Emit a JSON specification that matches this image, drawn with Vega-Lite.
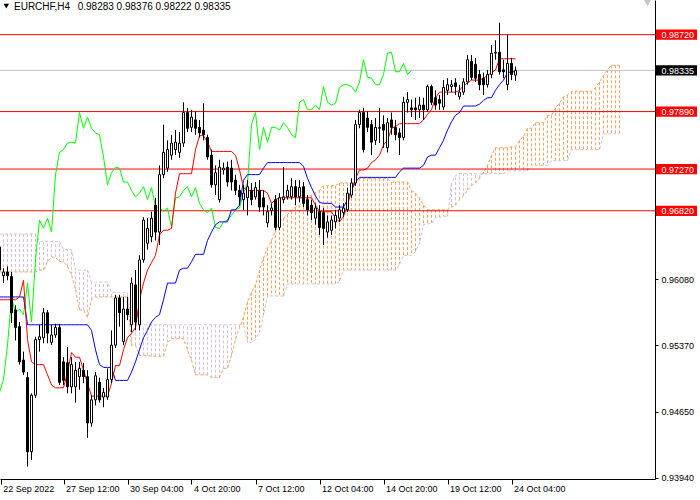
{
"$schema": "https://vega.github.io/schema/vega-lite/v6.json",
"width": 655, "height": 479,
"autosize": {"type": "none"},
"padding": {"left": 0, "top": 0, "right": 45, "bottom": 21},
"background": "white",
"config": {"view": {"stroke": null}, "font": "Liberation Sans", "scale": {"continuousPadding": 0}},
"datasets": {
"k": [
{"i":0,"o":0.9643,"h":0.9647,"l":0.9613,"c":0.9618,"tk":0.9586,"kj":0.9589,"ck":0.9486,"sa":0.9616,"sb":0.9657},
{"i":1,"o":0.9612,"h":0.9620,"l":0.9604,"c":0.9616,"tk":0.9586,"kj":0.9589,"ck":0.9500,"sa":0.9616,"sb":0.9657},
{"i":2,"o":0.9616,"h":0.9622,"l":0.9607,"c":0.9612,"tk":0.9586,"kj":0.9589,"ck":0.9537,"sa":0.9616,"sb":0.9657},
{"i":3,"o":0.9611,"h":0.9616,"l":0.9561,"c":0.9572,"tk":0.9586,"kj":0.9589,"ck":0.9588,"sa":0.9616,"sb":0.9657},
{"i":4,"o":0.9575,"h":0.9580,"l":0.9542,"c":0.9556,"tk":0.9586,"kj":0.9589,"ck":0.9572,"sa":0.9616,"sb":0.9657},
{"i":5,"o":0.9557,"h":0.9562,"l":0.9516,"c":0.9519,"tk":0.9589,"kj":0.9589,"ck":0.9576,"sa":0.9616,"sb":0.9657},
{"i":6,"o":0.9521,"h":0.9530,"l":0.9505,"c":0.9508,"tk":0.9607,"kj":0.9589,"ck":0.9570,"sa":0.9616,"sb":0.9657},
{"i":7,"o":0.9502,"h":0.9508,"l":0.9406,"c":0.9422,"tk":0.9543,"kj":0.9559,"ck":0.9604,"sa":0.9616,"sb":0.9657},
{"i":8,"o":0.9422,"h":0.9485,"l":0.9413,"c":0.9483,"tk":0.9519,"kj":0.9559,"ck":0.9562,"sa":0.9616,"sb":0.9657},
{"i":9,"o":0.9483,"h":0.9546,"l":0.9480,"c":0.9543,"tk":0.9516,"kj":0.9559,"ck":0.9629,"sa":0.9616,"sb":0.9657},
{"i":10,"o":0.9543,"h":0.9559,"l":0.9530,"c":0.9546,"tk":0.9516,"kj":0.9559,"ck":0.9672,"sa":0.9618,"sb":0.9649},
{"i":11,"o":0.9545,"h":0.9577,"l":0.9539,"c":0.9572,"tk":0.9516,"kj":0.9559,"ck":0.9663,"sa":0.9618,"sb":0.9649},
{"i":12,"o":0.9572,"h":0.9575,"l":0.9539,"c":0.9550,"tk":0.9505,"kj":0.9559,"ck":0.9674,"sa":0.9627,"sb":0.9649},
{"i":13,"o":0.9540,"h":0.9559,"l":0.9537,"c":0.9548,"tk":0.9494,"kj":0.9559,"ck":0.9659,"sa":0.9632,"sb":0.9649},
{"i":14,"o":0.9548,"h":0.9560,"l":0.9545,"c":0.9556,"tk":0.9491,"kj":0.9559,"ck":0.9721,"sa":0.9632,"sb":0.9649},
{"i":15,"o":0.9556,"h":0.9560,"l":0.9494,"c":0.9497,"tk":0.9491,"kj":0.9559,"ck":0.9745,"sa":0.9627,"sb":0.9649},
{"i":16,"o":0.9519,"h":0.9524,"l":0.9494,"c":0.9499,"tk":0.9491,"kj":0.9559,"ck":0.9748,"sa":0.9627,"sb":0.9640},
{"i":17,"o":0.9518,"h":0.9535,"l":0.9485,"c":0.9492,"tk":0.9508,"kj":0.9559,"ck":0.9755,"sa":0.9622,"sb":0.9640},
{"i":18,"o":0.9492,"h":0.9524,"l":0.9485,"c":0.9516,"tk":0.9529,"kj":0.9559,"ck":0.9756,"sa":0.9613,"sb":0.9640},
{"i":19,"o":0.9492,"h":0.9519,"l":0.9475,"c":0.9510,"tk":0.9524,"kj":0.9559,"ck":0.9755,"sa":0.9597,"sb":0.9618},
{"i":20,"o":0.9503,"h":0.9519,"l":0.9489,"c":0.9512,"tk":0.9524,"kj":0.9559,"ck":0.9788,"sa":0.9575,"sb":0.9618},
{"i":21,"o":0.9510,"h":0.9518,"l":0.9496,"c":0.9503,"tk":0.9510,"kj":0.9559,"ck":0.9771,"sa":0.9575,"sb":0.9618},
{"i":22,"o":0.9503,"h":0.9510,"l":0.9437,"c":0.9453,"tk":0.9496,"kj":0.9559,"ck":0.9783,"sa":0.9567,"sb":0.9618},
{"i":23,"o":0.9453,"h":0.9483,"l":0.9449,"c":0.9478,"tk":0.9482,"kj":0.9553,"ck":0.9771,"sa":0.9586,"sb":0.9605},
{"i":24,"o":0.9478,"h":0.9508,"l":0.9472,"c":0.9504,"tk":0.9482,"kj":0.9532,"ck":0.9766,"sa":0.9589,"sb":0.9605},
{"i":25,"o":0.9497,"h":0.9502,"l":0.9475,"c":0.9478,"tk":0.9482,"kj":0.9516,"ck":0.9764,"sa":0.9589,"sb":0.9605},
{"i":26,"o":0.9481,"h":0.9491,"l":0.9470,"c":0.9486,"tk":0.9482,"kj":0.9513,"ck":0.9740,"sa":0.9589,"sb":0.9605},
{"i":27,"o":0.9481,"h":0.9512,"l":0.9478,"c":0.9500,"tk":0.9482,"kj":0.9513,"ck":0.9710,"sa":0.9589,"sb":0.9605},
{"i":28,"o":0.9500,"h":0.9553,"l":0.9496,"c":0.9537,"tk":0.9496,"kj":0.9513,"ck":0.9723,"sa":0.9589,"sb":0.9594},
{"i":29,"o":0.9537,"h":0.9591,"l":0.9534,"c":0.9588,"tk":0.9515,"kj":0.9499,"ck":0.9729,"sa":0.9589,"sb":0.9594},
{"i":30,"o":0.9588,"h":0.9591,"l":0.9557,"c":0.9572,"tk":0.9515,"kj":0.9499,"ck":0.9728,"sa":0.9589,"sb":0.9594},
{"i":31,"o":0.9541,"h":0.9589,"l":0.9537,"c":0.9576,"tk":0.9532,"kj":0.9499,"ck":0.9713,"sa":0.9589,"sb":0.9594},
{"i":32,"o":0.9576,"h":0.9589,"l":0.9564,"c":0.9570,"tk":0.9545,"kj":0.9499,"ck":0.9713,"sa":0.9589,"sb":0.9594},
{"i":33,"o":0.9559,"h":0.9610,"l":0.9551,"c":0.9604,"tk":0.9550,"kj":0.9508,"ck":0.9704,"sa":0.9537,"sb":0.9559},
{"i":34,"o":0.9602,"h":0.9618,"l":0.9553,"c":0.9562,"tk":0.9556,"kj":0.9519,"ck":0.9697,"sa":0.9537,"sb":0.9559},
{"i":35,"o":0.9559,"h":0.9634,"l":0.9553,"c":0.9629,"tk":0.9586,"kj":0.9532,"ck":0.9701,"sa":0.9526,"sb":0.9559},
{"i":36,"o":0.9629,"h":0.9675,"l":0.9626,"c":0.9672,"tk":0.9604,"kj":0.9545,"ck":0.9708,"sa":0.9526,"sb":0.9559},
{"i":37,"o":0.9647,"h":0.9674,"l":0.9640,"c":0.9663,"tk":0.9618,"kj":0.9553,"ck":0.9694,"sa":0.9526,"sb":0.9559},
{"i":38,"o":0.9654,"h":0.9681,"l":0.9648,"c":0.9674,"tk":0.9626,"kj":0.9562,"ck":0.9707,"sa":0.9525,"sb":0.9559},
{"i":39,"o":0.9688,"h":0.9696,"l":0.9650,"c":0.9659,"tk":0.9634,"kj":0.9567,"ck":0.9686,"sa":0.9525,"sb":0.9559},
{"i":40,"o":0.9659,"h":0.9731,"l":0.9645,"c":0.9721,"tk":0.9656,"kj":0.9570,"ck":0.9686,"sa":0.9525,"sb":0.9559},
{"i":41,"o":0.9721,"h":0.9775,"l":0.9717,"c":0.9745,"tk":0.9661,"kj":0.9586,"ck":0.9681,"sa":0.9525,"sb":0.9559},
{"i":42,"o":0.9728,"h":0.9758,"l":0.9724,"c":0.9748,"tk":0.9661,"kj":0.9604,"ck":0.9685,"sa":0.9540,"sb":0.9559},
{"i":43,"o":0.9742,"h":0.9764,"l":0.9737,"c":0.9755,"tk":0.9663,"kj":0.9604,"ck":0.9664,"sa":0.9544,"sb":0.9559},
{"i":44,"o":0.9748,"h":0.9769,"l":0.9742,"c":0.9756,"tk":0.9701,"kj":0.9604,"ck":0.9696,"sa":0.9544,"sb":0.9559},
{"i":45,"o":0.9745,"h":0.9767,"l":0.9739,"c":0.9755,"tk":0.9722,"kj":0.9618,"ck":0.9697,"sa":0.9544,"sb":0.9559},
{"i":46,"o":0.9755,"h":0.9799,"l":0.9751,"c":0.9788,"tk":0.9722,"kj":0.9620,"ck":0.9704,"sa":0.9544,"sb":0.9559},
{"i":47,"o":0.9788,"h":0.9793,"l":0.9767,"c":0.9771,"tk":0.9722,"kj":0.9620,"ck":0.9708,"sa":0.9532,"sb":0.9559},
{"i":48,"o":0.9772,"h":0.9791,"l":0.9767,"c":0.9783,"tk":0.9722,"kj":0.9627,"ck":0.9697,"sa":0.9521,"sb":0.9559},
{"i":49,"o":0.9780,"h":0.9789,"l":0.9764,"c":0.9771,"tk":0.9748,"kj":0.9635,"ck":0.9707,"sa":0.9505,"sb":0.9559},
{"i":50,"o":0.9772,"h":0.9780,"l":0.9761,"c":0.9766,"tk":0.9763,"kj":0.9635,"ck":0.9690,"sa":0.9505,"sb":0.9559},
{"i":51,"o":0.9769,"h":0.9798,"l":0.9758,"c":0.9764,"tk":0.9763,"kj":0.9635,"ck":0.9683,"sa":0.9505,"sb":0.9559},
{"i":52,"o":0.9761,"h":0.9764,"l":0.9737,"c":0.9740,"tk":0.9756,"kj":0.9650,"ck":0.9680,"sa":0.9505,"sb":0.9559},
{"i":53,"o":0.9742,"h":0.9748,"l":0.9707,"c":0.9710,"tk":0.9746,"kj":0.9659,"ck":0.9685,"sa":0.9502,"sb":0.9559},
{"i":54,"o":0.9710,"h":0.9731,"l":0.9699,"c":0.9723,"tk":0.9746,"kj":0.9667,"ck":0.9664,"sa":0.9502,"sb":0.9559},
{"i":55,"o":0.9694,"h":0.9737,"l":0.9691,"c":0.9729,"tk":0.9746,"kj":0.9670,"ck":0.9663,"sa":0.9502,"sb":0.9559},
{"i":56,"o":0.9726,"h":0.9734,"l":0.9721,"c":0.9728,"tk":0.9746,"kj":0.9670,"ck":0.9670,"sa":0.9512,"sb":0.9559},
{"i":57,"o":0.9729,"h":0.9735,"l":0.9708,"c":0.9713,"tk":0.9746,"kj":0.9670,"ck":0.9672,"sa":0.9512,"sb":0.9559},
{"i":58,"o":0.9728,"h":0.9737,"l":0.9704,"c":0.9713,"tk":0.9746,"kj":0.9683,"ck":0.9677,"sa":0.9526,"sb":0.9559},
{"i":59,"o":0.9715,"h":0.9721,"l":0.9699,"c":0.9704,"tk":0.9742,"kj":0.9683,"ck":0.9683,"sa":0.9543,"sb":0.9559},
{"i":60,"o":0.9704,"h":0.9710,"l":0.9688,"c":0.9697,"tk":0.9726,"kj":0.9688,"ck":0.9685,"sa":0.9556,"sb":0.9559},
{"i":61,"o":0.9694,"h":0.9710,"l":0.9683,"c":0.9701,"tk":0.9707,"kj":0.9715,"ck":0.9701,"sa":0.9567,"sb":0.9559},
{"i":62,"o":0.9696,"h":0.9715,"l":0.9677,"c":0.9708,"tk":0.9704,"kj":0.9721,"ck":0.9712,"sa":0.9584,"sb":0.9540},
{"i":63,"o":0.9704,"h":0.9712,"l":0.9688,"c":0.9694,"tk":0.9704,"kj":0.9721,"ck":0.9775,"sa":0.9594,"sb":0.9540},
{"i":64,"o":0.9697,"h":0.9713,"l":0.9694,"c":0.9707,"tk":0.9704,"kj":0.9721,"ck":0.9788,"sa":0.9602,"sb":0.9543},
{"i":65,"o":0.9704,"h":0.9715,"l":0.9681,"c":0.9686,"tk":0.9704,"kj":0.9721,"ck":0.9748,"sa":0.9618,"sb":0.9551},
{"i":66,"o":0.9696,"h":0.9704,"l":0.9677,"c":0.9686,"tk":0.9704,"kj":0.9728,"ck":0.9772,"sa":0.9631,"sb":0.9569},
{"i":67,"o":0.9669,"h":0.9688,"l":0.9664,"c":0.9681,"tk":0.9701,"kj":0.9734,"ck":0.9756,"sa":0.9642,"sb":0.9590},
{"i":68,"o":0.9682,"h":0.9690,"l":0.9677,"c":0.9685,"tk":0.9690,"kj":0.9734,"ck":0.9772,"sa":0.9650,"sb":0.9590},
{"i":69,"o":0.9694,"h":0.9699,"l":0.9661,"c":0.9664,"tk":0.9694,"kj":0.9734,"ck":0.9772,"sa":0.9661,"sb":0.9590},
{"i":70,"o":0.9664,"h":0.9701,"l":0.9661,"c":0.9696,"tk":0.9696,"kj":0.9734,"ck":0.9769,"sa":0.9670,"sb":0.9590},
{"i":71,"o":0.9694,"h":0.9729,"l":0.9690,"c":0.9697,"tk":0.9696,"kj":0.9734,"ck":0.9777,"sa":0.9674,"sb":0.9590},
{"i":72,"o":0.9697,"h":0.9710,"l":0.9694,"c":0.9704,"tk":0.9696,"kj":0.9734,"ck":0.9772,"sa":0.9678,"sb":0.9603},
{"i":73,"o":0.9697,"h":0.9717,"l":0.9694,"c":0.9708,"tk":0.9696,"kj":0.9734,"ck":0.9764,"sa":0.9682,"sb":0.9603},
{"i":74,"o":0.9708,"h":0.9715,"l":0.9688,"c":0.9697,"tk":0.9696,"kj":0.9734,"ck":0.9761,"sa":0.9686,"sb":0.9603},
{"i":75,"o":0.9697,"h":0.9715,"l":0.9691,"c":0.9707,"tk":0.9696,"kj":0.9734,"ck":0.9799,"sa":0.9688,"sb":0.9603},
{"i":76,"o":0.9708,"h":0.9713,"l":0.9686,"c":0.9690,"tk":0.9696,"kj":0.9730,"ck":0.9802,"sa":0.9692,"sb":0.9603},
{"i":77,"o":0.9694,"h":0.9699,"l":0.9677,"c":0.9683,"tk":0.9696,"kj":0.9717,"ck":0.9791,"sa":0.9696,"sb":0.9603},
{"i":78,"o":0.9688,"h":0.9694,"l":0.9672,"c":0.9680,"tk":0.9696,"kj":0.9707,"ck":0.9791,"sa":0.9699,"sb":0.9603},
{"i":79,"o":0.9674,"h":0.9690,"l":0.9667,"c":0.9685,"tk":0.9688,"kj":0.9698,"ck":0.9796,"sa":0.9702,"sb":0.9603},
{"i":80,"o":0.9681,"h":0.9688,"l":0.9656,"c":0.9664,"tk":0.9681,"kj":0.9691,"ck":0.9791,"sa":0.9704,"sb":0.9603},
{"i":81,"o":0.9680,"h":0.9685,"l":0.9645,"c":0.9663,"tk":0.9681,"kj":0.9690,"ck":0.9816,"sa":0.9709,"sb":0.9603},
{"i":82,"o":0.9659,"h":0.9677,"l":0.9653,"c":0.9670,"tk":0.9681,"kj":0.9690,"ck":0.9799,"sa":0.9709,"sb":0.9603},
{"i":83,"o":0.9661,"h":0.9677,"l":0.9656,"c":0.9672,"tk":0.9681,"kj":0.9690,"ck":0.9796,"sa":0.9709,"sb":0.9603},
{"i":84,"o":0.9670,"h":0.9683,"l":0.9663,"c":0.9677,"tk":0.9674,"kj":0.9686,"ck":0.9798,"sa":0.9709,"sb":0.9603},
{"i":85,"o":0.9674,"h":0.9688,"l":0.9670,"c":0.9683,"tk":0.9670,"kj":0.9686,"ck":0.9815,"sa":0.9712,"sb":0.9606},
{"i":86,"o":0.9680,"h":0.9690,"l":0.9675,"c":0.9685,"tk":0.9676,"kj":0.9686,"ck":0.9818,"sa":0.9712,"sb":0.9618},
{"i":87,"o":0.9683,"h":0.9707,"l":0.9681,"c":0.9701,"tk":0.9688,"kj":0.9694,"ck":0.9818,"sa":0.9712,"sb":0.9618},
{"i":88,"o":0.9699,"h":0.9717,"l":0.9696,"c":0.9712,"tk":0.9704,"kj":0.9704,"ck":0.9816,"sa":0.9712,"sb":0.9618},
{"i":89,"o":0.9712,"h":0.9780,"l":0.9709,"c":0.9775,"tk":0.9717,"kj":0.9713,"ck":0.9810,"sa":0.9717,"sb":0.9618},
{"i":90,"o":0.9775,"h":0.9791,"l":0.9771,"c":0.9788,"tk":0.9726,"kj":0.9718,"ck":0.9821,"sa":0.9717,"sb":0.9618},
{"i":91,"o":0.9788,"h":0.9793,"l":0.9745,"c":0.9748,"tk":0.9726,"kj":0.9718,"ck":0.9845,"sa":0.9717,"sb":0.9618},
{"i":92,"o":0.9782,"h":0.9789,"l":0.9767,"c":0.9772,"tk":0.9728,"kj":0.9718,"ck":0.9826,"sa":0.9717,"sb":0.9618},
{"i":93,"o":0.9775,"h":0.9780,"l":0.9742,"c":0.9756,"tk":0.9734,"kj":0.9718,"ck":0.9825,"sa":0.9717,"sb":0.9618},
{"i":94,"o":0.9758,"h":0.9782,"l":0.9753,"c":0.9772,"tk":0.9737,"kj":0.9718,"ck":0.9818,"sa":0.9717,"sb":0.9618},
{"i":95,"o":0.9771,"h":0.9793,"l":0.9755,"c":0.9772,"tk":0.9742,"kj":0.9718,"ck":0.9818,"sa":0.9717,"sb":0.9618},
{"i":96,"o":0.9775,"h":0.9785,"l":0.9750,"c":0.9769,"tk":0.9753,"kj":0.9718,"ck":0.9829,"sa":0.9717,"sb":0.9618},
{"i":97,"o":0.9750,"h":0.9782,"l":0.9745,"c":0.9777,"tk":0.9758,"kj":0.9718,"ck":0.9852,"sa":0.9717,"sb":0.9618},
{"i":98,"o":0.9780,"h":0.9788,"l":0.9764,"c":0.9772,"tk":0.9771,"kj":0.9718,"ck":0.9853,"sa":0.9713,"sb":0.9618},
{"i":99,"o":0.9772,"h":0.9780,"l":0.9758,"c":0.9764,"tk":0.9773,"kj":0.9718,"ck":0.9832,"sa":0.9713,"sb":0.9618},
{"i":100,"o":0.9766,"h":0.9771,"l":0.9742,"c":0.9761,"tk":0.9776,"kj":0.9724,"ck":0.9832,"sa":0.9713,"sb":0.9624},
{"i":101,"o":0.9761,"h":0.9805,"l":0.9758,"c":0.9799,"tk":0.9776,"kj":0.9728,"ck":0.9841,"sa":0.9713,"sb":0.9634},
{"i":102,"o":0.9799,"h":0.9810,"l":0.9788,"c":0.9802,"tk":0.9776,"kj":0.9728,"ck":0.9829,"sa":0.9713,"sb":0.9634},
{"i":103,"o":0.9793,"h":0.9802,"l":0.9783,"c":0.9791,"tk":0.9776,"kj":0.9728,"ck":0.98335,"sa":0.9704,"sb":0.9634},
{"i":104,"o":0.9793,"h":0.9804,"l":0.9780,"c":0.9791,"tk":0.9776,"kj":0.9728,"sa":0.9701,"sb":0.9638},
{"i":105,"o":0.9791,"h":0.9805,"l":0.9782,"c":0.9796,"tk":0.9776,"kj":0.9728,"sa":0.9696,"sb":0.9647},
{"i":106,"o":0.9796,"h":0.9804,"l":0.9780,"c":0.9791,"tk":0.9780,"kj":0.9731,"sa":0.9688,"sb":0.9667},
{"i":107,"o":0.9791,"h":0.9818,"l":0.9789,"c":0.9816,"tk":0.9786,"kj":0.9740,"sa":0.9683,"sb":0.9668},
{"i":108,"o":0.9816,"h":0.9818,"l":0.9796,"c":0.9799,"tk":0.9791,"kj":0.9742,"sa":0.9683,"sb":0.9668},
{"i":109,"o":0.9804,"h":0.9812,"l":0.9791,"c":0.9796,"tk":0.9804,"kj":0.9742,"sa":0.9683,"sb":0.9675},
{"i":110,"o":0.9802,"h":0.9807,"l":0.9791,"c":0.9798,"tk":0.9810,"kj":0.9750,"sa":0.9683,"sb":0.9675},
{"i":111,"o":0.9794,"h":0.9823,"l":0.9791,"c":0.9815,"tk":0.9810,"kj":0.9758,"sa":0.9683,"sb":0.9676},
{"i":112,"o":0.9812,"h":0.9825,"l":0.9807,"c":0.9818,"tk":0.9810,"kj":0.9769,"sa":0.9683,"sb":0.9676},
{"i":113,"o":0.9816,"h":0.9823,"l":0.9810,"c":0.9818,"tk":0.9810,"kj":0.9778,"sa":0.9686,"sb":0.9712},
{"i":114,"o":0.9820,"h":0.9825,"l":0.9807,"c":0.9816,"tk":0.9810,"kj":0.9785,"sa":0.9688,"sb":0.9720},
{"i":115,"o":0.9805,"h":0.9818,"l":0.9802,"c":0.9810,"tk":0.9812,"kj":0.9788,"sa":0.9694,"sb":0.9722},
{"i":116,"o":0.9810,"h":0.9825,"l":0.9807,"c":0.9821,"tk":0.9817,"kj":0.9795,"sa":0.9698,"sb":0.9722},
{"i":117,"o":0.9821,"h":0.9850,"l":0.9818,"c":0.9845,"tk":0.9820,"kj":0.9795,"sa":0.9704,"sb":0.9722},
{"i":118,"o":0.9843,"h":0.9850,"l":0.9823,"c":0.9826,"tk":0.9823,"kj":0.9795,"sa":0.9709,"sb":0.9722},
{"i":119,"o":0.9840,"h":0.9847,"l":0.9821,"c":0.9825,"tk":0.9823,"kj":0.9795,"sa":0.9712,"sb":0.9722},
{"i":120,"o":0.9829,"h":0.9834,"l":0.9812,"c":0.9818,"tk":0.9823,"kj":0.9797,"sa":0.9717,"sb":0.9722},
{"i":121,"o":0.9825,"h":0.9831,"l":0.9807,"c":0.9818,"tk":0.9825,"kj":0.9801,"sa":0.9724,"sb":0.9722},
{"i":122,"o":0.9818,"h":0.9834,"l":0.9815,"c":0.9829,"tk":0.9828,"kj":0.9804,"sa":0.9731,"sb":0.9722},
{"i":123,"o":0.9829,"h":0.9861,"l":0.9825,"c":0.9852,"tk":0.9831,"kj":0.9804,"sa":0.9742,"sb":0.9722},
{"i":124,"o":0.9852,"h":0.9866,"l":0.9845,"c":0.9853,"tk":0.9834,"kj":0.9812,"sa":0.9750,"sb":0.9722},
{"i":125,"o":0.9853,"h":0.9885,"l":0.9829,"c":0.9832,"tk":0.9846,"kj":0.9818,"sa":0.9750,"sb":0.9722},
{"i":126,"o":0.9834,"h":0.9845,"l":0.9825,"c":0.9832,"tk":0.9846,"kj":0.9823,"sa":0.9750,"sb":0.9722},
{"i":127,"o":0.9818,"h":0.9872,"l":0.9812,"c":0.9841,"tk":0.9846,"kj":0.9831,"sa":0.9750,"sb":0.9725},
{"i":128,"o":0.9841,"h":0.9847,"l":0.9823,"c":0.9829,"tk":0.9846,"kj":0.9832,"sa":0.9751,"sb":0.9725},
{"i":129,"o":0.98283,"h":0.98376,"l":0.98222,"c":0.98335,"tk":0.9846,"kj":0.9832,"sa":0.9751,"sb":0.9725},
{"i":130,"sa":0.9758,"sb":0.9725},
{"i":131,"sa":0.9762,"sb":0.9725},
{"i":132,"sa":0.9771,"sb":0.9725},
{"i":133,"sa":0.9771,"sb":0.9731},
{"i":134,"sa":0.9777,"sb":0.9731},
{"i":135,"sa":0.9777,"sb":0.9731},
{"i":136,"sa":0.9777,"sb":0.9731},
{"i":137,"sa":0.9785,"sb":0.9731},
{"i":138,"sa":0.9785,"sb":0.9736},
{"i":139,"sa":0.9793,"sb":0.9736},
{"i":140,"sa":0.9798,"sb":0.9736},
{"i":141,"sa":0.9805,"sb":0.9736},
{"i":142,"sa":0.9807,"sb":0.9736},
{"i":143,"sa":0.9811,"sb":0.9748},
{"i":144,"sa":0.9811,"sb":0.9748},
{"i":145,"sa":0.9811,"sb":0.9748},
{"i":146,"sa":0.9811,"sb":0.9748},
{"i":147,"sa":0.9811,"sb":0.9748},
{"i":148,"sa":0.9811,"sb":0.9748},
{"i":149,"sa":0.9815,"sb":0.9748},
{"i":150,"sa":0.9821,"sb":0.9748},
{"i":151,"sa":0.9828,"sb":0.9765},
{"i":152,"sa":0.9834,"sb":0.9765},
{"i":153,"sa":0.9839,"sb":0.9765},
{"i":154,"sa":0.9839,"sb":0.9765},
{"i":155,"sa":0.9839,"sb":0.9765}
],
"lv": [
{"p":0.9872,"kind":"level"},
{"p":0.9789,"kind":"level"},
{"p":0.9727,"kind":"level"},
{"p":0.9682,"kind":"level"},
{"p":0.98335,"kind":"last"}
]
},
"layer": [
{
"data": {"name": "k"},
"transform": [{"filter": "datum.sa >= datum.sb"}],
"mark": {"type": "rule", "strokeDash": [3, 2], "strokeWidth": 1, "stroke": "#F4A460"},
"encoding": {
"x": {"field": "i", "type": "quantitative", "scale": {"domain": [0.125, 163.875], "nice": false, "zero": false, "padding": 0},
"axis": {"values": [0.3, 16, 32, 48, 64, 80, 96, 112, 128], "labelExpr": "['22 Sep 2022','27 Sep 12:00','30 Sep 04:00','4 Oct 20:00','7 Oct 12:00','12 Oct 04:00','14 Oct 20:00','19 Oct 12:00','24 Oct 04:00'][round(datum.value/16)]", "title": null, "grid": false, "domainColor": "black", "domainWidth": 1, "tickColor": "black", "tickSize": 5, "labelAlign": "left", "labelBaseline": "alphabetic", "labelPadding": 7, "labelOffset": 2, "labelFont": "Liberation Sans", "labelFontSize": 9, "labelColor": "black", "labelOverlap": false, "labelFlush": false, "labelBound": false, "zindex": 1}},
"y": {"field": "sa", "type": "quantitative", "scale": {"domain": [0.93926, 0.99094], "nice": false, "zero": false, "padding": 0},
"axis": {"orient": "right", "values": [0.9894, 0.9859, 0.9823, 0.9751, 0.9716, 0.9644, 0.9608, 0.9572, 0.9537, 0.9501, 0.9465, 0.9429, 0.9394, 0.9872, 0.9789, 0.9727, 0.9682, 0.98335], "format": ".5f", "title": null, "grid": false, "domainColor": "black", "domainWidth": 1, "tickSize": 3, "labelPadding": 3, "labelFont": "Liberation Sans", "labelFontSize": 9, "labelOverlap": false, "labelFlush": false, "labelBound": false, "zindex": 1,
"tickColor": {"condition": {"test": "datum.value == 0.9872 || datum.value == 0.9789 || datum.value == 0.9727 || datum.value == 0.9682 || datum.value == 0.98335", "value": "transparent"}, "value": "black"},
"labelColor": {"condition": {"test": "datum.value == 0.9872 || datum.value == 0.9789 || datum.value == 0.9727 || datum.value == 0.9682 || datum.value == 0.98335", "value": "white"}, "value": "black"}}},
"y2": {"field": "sb"}
}
},
{
"data": {"name": "k"},
"transform": [{"filter": "datum.sa < datum.sb"}],
"mark": {"type": "rule", "strokeDash": [3, 2], "strokeWidth": 1, "stroke": "#D8BFD8"},
"encoding": {
"x": {"field": "i", "type": "quantitative"},
"y": {"field": "sa", "type": "quantitative"},
"y2": {"field": "sb"}
}
},
{
"data": {"name": "k"},
"mark": {"type": "line", "stroke": "#F4A460", "strokeWidth": 1, "strokeDash": [3, 2]},
"encoding": {
"x": {"field": "i", "type": "quantitative"},
"y": {"field": "sa", "type": "quantitative"}
}
},
{
"data": {"name": "k"},
"mark": {"type": "line", "stroke": "#D8BFD8", "strokeWidth": 1, "strokeDash": [3, 2]},
"encoding": {
"x": {"field": "i", "type": "quantitative"},
"y": {"field": "sb", "type": "quantitative"}
}
},
{
"data": {"name": "lv"},
"mark": {"type": "rule", "strokeWidth": 1},
"encoding": {
"y": {"field": "p", "type": "quantitative"},
"stroke": {"condition": {"test": "datum.kind == 'last'", "value": "#C0C0C0"}, "value": "#FF0000"}
}
},
{
"data": {"name": "k"},
"mark": {"type": "line", "stroke": "#00FF00", "strokeWidth": 1},
"encoding": {
"x": {"field": "i", "type": "quantitative"},
"y": {"field": "ck", "type": "quantitative"}
}
},
{
"data": {"name": "k"},
"mark": {"type": "line", "stroke": "#0000FF", "strokeWidth": 1},
"encoding": {
"x": {"field": "i", "type": "quantitative"},
"y": {"field": "kj", "type": "quantitative"}
}
},
{
"data": {"name": "k"},
"mark": {"type": "line", "stroke": "#FF0000", "strokeWidth": 1},
"encoding": {
"x": {"field": "i", "type": "quantitative"},
"y": {"field": "tk", "type": "quantitative"}
}
},
{
"data": {"name": "k"},
"transform": [{"filter": "isValid(datum.o)"}],
"mark": {"type": "rule", "stroke": "black", "strokeWidth": 1},
"encoding": {
"x": {"field": "i", "type": "quantitative"},
"y": {"field": "l", "type": "quantitative"},
"y2": {"field": "h"}
}
},
{
"data": {"name": "k"},
"transform": [{"filter": "isValid(datum.o)"}],
"mark": {"type": "bar", "width": 2, "stroke": "black", "strokeWidth": 1},
"encoding": {
"x": {"field": "i", "type": "quantitative"},
"y": {"field": "o", "type": "quantitative"},
"y2": {"field": "c"},
"fill": {"condition": {"test": "datum.c >= datum.o", "value": "white"}, "value": "black"}
}
},
{
"data": {"name": "lv"},
"mark": {"type": "point", "shape": "M-1,-0.25H1V0.25H-1Z", "filled": true, "size": 1681, "opacity": 1, "strokeWidth": 0},
"encoding": {
"x": {"datum": 169.25, "type": "quantitative"},
"y": {"field": "p", "type": "quantitative"},
"fill": {"condition": {"test": "datum.kind == 'last'", "value": "#000000"}, "value": "#FF0000"}
}
},
{
"data": {"values": [{"t": "EURCHF,H4\u00a0\u00a0\u20090.98283 0.98376 0.98222 0.98335"}]},
"mark": {"type": "text", "align": "left", "baseline": "alphabetic", "fontSize": 10, "font": "Liberation Sans", "fill": "black"},
"encoding": {
"x": {"datum": 3.625, "type": "quantitative"},
"y": {"datum": 0.98986, "type": "quantitative"},
"text": {"field": "t"}
}
},
{
"data": {"values": [{"s": "marker"}]},
"mark": {"type": "point", "shape": "triangle-down", "filled": true, "size": 30, "opacity": 1, "fill": "black", "strokeWidth": 0},
"encoding": {
"x": {"datum": 1.7, "type": "quantitative"},
"y": {"datum": 0.99029, "type": "quantitative"}
}
},
{
"data": {"values": [{"s": "shift"}]},
"mark": {"type": "point", "shape": "triangle-down", "filled": true, "size": 150, "opacity": 1, "fill": "#C8C8C8", "strokeWidth": 0},
"encoding": {
"x": {"datum": 162, "type": "quantitative"},
"y": {"datum": 0.99085, "type": "quantitative"}
}
}
]
}
